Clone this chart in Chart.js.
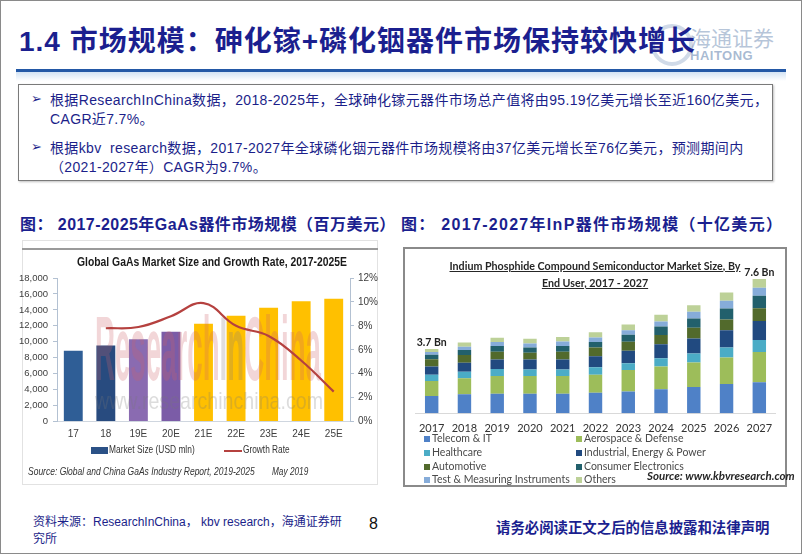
<!DOCTYPE html>
<html lang="zh-CN">
<head>
<meta charset="utf-8">
<title>1.4 市场规模</title>
<script src="https://cdn.jsdelivr.net/npm/chart.js@4.4.1/dist/chart.umd.min.js"></script>
<style>
html,body{margin:0;padding:0;background:#fff;}
#slide{position:relative;width:802px;height:554px;overflow:hidden;font-family:"Liberation Sans","Noto Sans CJK SC",sans-serif;background:#fff;}
.a{position:absolute;white-space:nowrap;}
#frame{position:absolute;left:0;top:0;width:802px;height:554px;box-sizing:border-box;border:1px solid #8a8a8a;pointer-events:none;}
#title{left:19px;top:24px;font-size:28px;font-weight:bold;color:#1b1f8f;line-height:36px;letter-spacing:1px;}
#logoCircle{left:651px;top:24px;width:34px;height:34px;border-radius:50%;border:4px solid rgba(120,150,190,0.35);}
#logoCn{left:690px;top:22px;font-size:21px;color:rgba(110,140,180,0.5);font-family:"Noto Sans CJK SC";}
#logoEn{left:690px;top:48px;font-size:13px;font-weight:bold;color:rgba(110,140,180,0.6);letter-spacing:0.5px;}
#rule{left:16px;top:69px;width:770px;height:3px;background:#2358a6;}
#ruleShade{left:16px;top:72px;width:770px;height:9px;background:linear-gradient(#d3e3f4,#ffffff);}
#box{left:18px;top:84px;width:755px;height:97px;box-sizing:border-box;border:1px solid #7a7a7a;box-shadow:1px 1px 2px rgba(0,0,0,0.25);}
.bul{font-size:14px;color:#1c1f8a;line-height:19px;letter-spacing:0.35px;}
.arrow{font-size:13px;color:#1c1f8a;}
.cap{font-size:16px;font-weight:bold;color:#1b1f8f;top:211px;}
#leftFrame{left:22px;top:240px;width:356px;height:245px;box-sizing:border-box;border:1px solid #e2e2e2;}
#leftRule{left:22px;top:248px;width:356px;height:2px;background:#9a9a9a;}
#rightFrame{left:403px;top:247px;width:384px;height:240px;box-sizing:border-box;border:2px solid #8a8a8a;}
canvas{position:absolute;}
.lg{font-size:11.5px;color:#333;transform-origin:0 0;}
.rlg{font-size:10.5px;color:#4a4a4a;font-family:Lato,"Liberation Sans",sans-serif;}
.sw{position:absolute;width:6px;height:6px;}
#rTitle{left:403px;top:257px;width:384px;text-align:center;font-family:Lato,"Liberation Sans",sans-serif;font-weight:bold;font-size:10.7px;line-height:17px;color:#262626;text-decoration:underline;}
#rSource{left:647px;top:469px;font-family:Lato,"Liberation Sans",sans-serif;font-weight:bold;font-style:italic;font-size:11.5px;color:#262626;}
.lsrc{top:465px;font-size:11px;font-style:italic;color:#333;transform-origin:0 0;}
#foot1{left:33px;top:514px;font-size:12px;line-height:17px;color:#1c1f8a;}
#pageNo{left:369px;top:515px;font-size:16px;color:#111;}
#foot2{left:496px;top:516px;font-size:14.4px;font-weight:bold;color:#1b1f8f;}
</style>
</head>
<body>
<div id="slide">
  <div class="a" id="logoCircle"></div>
  <div class="a" id="logoCn">海通证券</div>
  <div class="a" id="logoEn">HAITONG</div>
  <div class="a" id="title">1.4 市场规模：砷化镓+磷化铟器件市场保持较快增长</div>
  <div class="a" id="rule"></div>
  <div class="a" id="ruleShade"></div>
  <div class="a" id="box"></div>
  <div class="a arrow" style="left:31px;top:91px;">➢</div>
  <div class="a bul" style="left:50px;top:91px;">根据ResearchInChina数据，2018-2025年，全球砷化镓元器件市场总产值将由95.19亿美元增长至近160亿美元，<br>CAGR近7.7%。</div>
  <div class="a arrow" style="left:31px;top:139px;">➢</div>
  <div class="a bul" style="left:50px;top:139px;">根据kbv&nbsp; research数据，2017-2027年全球磷化铟元器件市场规模将由37亿美元增长至76亿美元，预测期间内<br>（2021-2027年）CAGR为9.7%。</div>
  <div class="a cap" style="left:20px;letter-spacing:0.45px;">图：&nbsp;2017-2025年GaAs器件市场规模（百万美元）</div>
  <div class="a cap" style="left:401px;letter-spacing:1.3px;">图：&nbsp;2017-2027年InP器件市场规模（十亿美元）</div>

  <div class="a" id="leftFrame"></div>
  <div class="a" id="leftRule"></div>
  <canvas id="gaasChart" width="362" height="245" style="left:16px;top:240px;"></canvas>
  <div class="a" style="left:91px;top:447px;width:17px;height:7px;background:#2b5186;"></div>
  <div class="a lg" data-fit="86" style="left:109px;top:443px;">Market Size (USD mln)</div>
  <div class="a" style="left:224px;top:450px;width:18px;height:2px;background:#b5413f;"></div>
  <div class="a lg" data-fit="47" style="left:243px;top:443px;">Growth Rate</div>
  <div class="a lsrc" data-fit="227" style="left:28px;">Source: Global and China GaAs Industry Report, 2019-2025</div>
  <div class="a lsrc" data-fit="36" style="left:272px;">May 2019</div>

  <div class="a" id="rightFrame"></div>
  <canvas id="inpChart" width="384" height="240" style="left:403px;top:247px;"></canvas>
  <div class="a" id="rTitle">Indium Phosphide Compound Semiconductor Market Size, By<br>End User, 2017 - 2027</div>
  <div id="rLegend"></div>
  <div class="a" id="rSource">Source: www.kbvresearch.com</div>

  <div class="a" id="foot1">资料来源：ResearchInChina， kbv research，海通证券研<br>究所</div>
  <div class="a" id="pageNo">8</div>
  <div class="a" id="foot2">请务必阅读正文之后的信息披露和法律声明</div>
  <div id="frame"></div>
</div>
<script>
// ---------- Left chart data (GaAs) ----------
const gaasTitleText = 'Global GaAs Market Size and Growth Rate, 2017-2025E';
const gaasCategories = ['17','18','19E','20E','21E','22E','23E','24E','25E'];
const gaasMarketSize = [8870, 9520, 10310, 11270, 12270, 13280, 14280, 15080, 15410];
const gaasGrowthRate = [null, 7.8, 7.9, 8.8, 9.9, 8.0, 7.15, 5.1, 2.5];
const gaasSizeTicks = [0, 2000, 4000, 6000, 8000, 10000, 12000, 14000, 16000, 18000];
const gaasRateTicks = [0, 2, 4, 6, 8, 10, 12];

// ---------- Right chart data (InP, billion USD) ----------
const inpYears = ['2017','2018','2019','2020','2021','2022','2023','2024','2025','2026','2027'];
const inpSegments = ['Telecom & IT','Aerospace & Defense','Healthcare','Industrial, Energy & Power','Automotive','Consumer Electronics','Test & Measuring Instruments','Others'];
const telecomIT           = [0.99, 1.09, 1.12, 1.12, 1.12, 1.18, 1.24, 1.37, 1.50, 1.67, 1.77];
const aerospaceDefense    = [0.86, 0.91, 1.01, 1.01, 1.01, 1.03, 1.24, 1.30, 1.41, 1.52, 1.73];
const healthcare          = [0.36, 0.38, 0.40, 0.38, 0.38, 0.42, 0.38, 0.48, 0.51, 0.57, 0.69];
const industrialEnergy    = [0.46, 0.51, 0.55, 0.57, 0.57, 0.63, 0.72, 0.80, 0.86, 0.99, 1.09];
const automotive          = [0.42, 0.44, 0.44, 0.38, 0.44, 0.50, 0.51, 0.53, 0.61, 0.61, 0.72];
const consumerElectronics = [0.25, 0.29, 0.32, 0.30, 0.32, 0.32, 0.40, 0.48, 0.53, 0.63, 0.72];
const testMeasuring       = [0.17, 0.19, 0.23, 0.23, 0.27, 0.25, 0.25, 0.29, 0.38, 0.44, 0.46];
const others              = [0.17, 0.23, 0.25, 0.27, 0.25, 0.30, 0.34, 0.38, 0.38, 0.48, 0.50];
const inpTotalLabels = ['3.7 Bn','','','','','','','','','','7.6 Bn'];

// ---------- Styles ----------
const gaasBarColors = ['#2f5e96','#284b7f','#8a6bb1','#7b5ca7','#ffc000','#ffc000','#ffc000','#ffc000','#ffc000'];
const gaasLineColor = '#b5413f';
const inpColors = ['#4f81c7','#9dbd5a','#4bacc6','#214a80','#526a2c','#22606c','#86acd9','#bdd198'];
const axisColor = '#b3c1d2';
const tickFont = '"Liberation Sans", sans-serif';

// fit narrow HTML labels to their reference widths
document.querySelectorAll('[data-fit]').forEach(el => {
  const s = parseFloat(el.dataset.fit) / el.offsetWidth;
  el.style.transform = 'scaleX(' + s + ')';
});

// ---------- Left chart ----------
const gaasTitle = {
  id: 'gaasTitle',
  afterDraw(chart) {
    const ctx = chart.ctx;
    ctx.save();
    ctx.font = 'bold 12px "Liberation Sans"';
    const w = ctx.measureText(gaasTitleText).width;
    ctx.translate(196, 23);
    ctx.scale(Math.min(1, 270 / w), 1);
    ctx.textAlign = 'center';
    ctx.textBaseline = 'middle';
    ctx.fillStyle = '#1a1a1a';
    ctx.fillText(gaasTitleText, 0, 0);
    ctx.restore();
  }
};
const watermark = {
  id: 'watermark',
  afterDatasetDraw(chart, args) {
    if (args.index !== 0) return;
    const ctx = chart.ctx;
    ctx.save();
    ctx.font = 'bold 90px "Liberation Sans"';
    const parts = [['Research','rgba(205,95,105,0.26)'],['In','rgba(130,120,125,0.25)'],['China','rgba(205,95,105,0.26)']];
    let total = 0; parts.forEach(p => total += ctx.measureText(p[0]).width);
    const sx = 226 / total;
    ctx.translate(79, 140);
    ctx.scale(sx, 1);
    ctx.textBaseline = 'alphabetic';
    let x = 0;
    parts.forEach(p => { ctx.fillStyle = p[1]; ctx.fillText(p[0], x, 0); x += ctx.measureText(p[0]).width; });
    ctx.restore();
    ctx.save();
    ctx.font = '24px "Liberation Sans"';
    const w2 = ctx.measureText('www.researchinchina.com').width;
    ctx.translate(79, 162);
    ctx.scale(228 / w2, 1);
    ctx.fillStyle = 'rgba(120,120,120,0.26)';
    ctx.textBaseline = 'middle';
    ctx.fillText('www.researchinchina.com', 0, 0);
    ctx.restore();
  }
};

new Chart(document.getElementById('gaasChart'), {
  data: {
    labels: gaasCategories,
    datasets: [
      { type: 'bar', label: 'Market Size (USD mln)', data: gaasMarketSize, backgroundColor: gaasBarColors,
        yAxisID: 'y', order: 1, categoryPercentage: 1, barPercentage: 0.58 },
      { type: 'line', label: 'Growth Rate', data: gaasGrowthRate, borderColor: gaasLineColor, borderWidth: 2.2,
        pointRadius: 0, tension: 0.4, yAxisID: 'y1', order: 0, spanGaps: false }
    ]
  },
  options: {
    responsive: false, animation: false,
    layout: { padding: { left: 0, right: 0, top: 38, bottom: 0 } },
    plugins: { legend: { display: false }, tooltip: { enabled: false }, title: { display: false } },
    scales: {
      x: { grid: { display: false, drawTicks: false }, border: { display: true, color: '#cfd6df' },
        ticks: { color: '#404040', font: { family: tickFont, size: 10 }, padding: 7 },
        afterFit(s) { s.height = 63.5; } },
      y: { position: 'left', min: 0, max: 18000,
        afterBuildTicks(s) { s.ticks = gaasSizeTicks.map(v => ({ value: v })); },
        grid: { drawOnChartArea: false, drawTicks: true, tickLength: 4, color: axisColor },
        border: { display: true, color: axisColor },
        ticks: { color: '#404040', font: { family: tickFont, size: 9.5 }, padding: 5, autoSkip: false,
          callback: v => v.toLocaleString('en-US') },
        afterFit(s) { s.width = 41; } },
      y1: { position: 'right', min: 0, max: 12,
        afterBuildTicks(s) { s.ticks = gaasRateTicks.map(v => ({ value: v })); },
        grid: { drawOnChartArea: false, drawTicks: true, tickLength: 4, color: axisColor },
        border: { display: true, color: axisColor },
        ticks: { color: '#404040', font: { family: tickFont, size: 10 }, padding: 4, autoSkip: false,
          callback: v => v + '%' },
        afterFit(s) { s.width = 28; } }
    }
  },
  plugins: [watermark, gaasTitle]
});

// ---------- Right chart ----------
const inpSeries = [telecomIT, aerospaceDefense, healthcare, industrialEnergy, automotive, consumerElectronics, testMeasuring, others];
const totalLabelPlugin = {
  id: 'totalLabels',
  afterDatasetsDraw(chart) {
    const ctx = chart.ctx;
    ctx.save();
    ctx.font = 'bold 10.5px Lato, "Liberation Sans"';
    ctx.fillStyle = '#222';
    ctx.textAlign = 'center';
    ctx.textBaseline = 'middle';
    inpTotalLabels.forEach((lab, i) => {
      if (!lab) return;
      const tot = inpSeries.reduce((s, arr) => s + arr[i], 0);
      const x = chart.scales.x.getPixelForValue(i);
      const y = chart.scales.y.getPixelForValue(tot) - 6;
      ctx.fillText(lab, x, y);
    });
    ctx.restore();
  }
};

new Chart(document.getElementById('inpChart'), {
  type: 'bar',
  data: {
    labels: inpYears,
    datasets: inpSegments.map((name, k) => ({
      label: name, data: inpSeries[k], backgroundColor: inpColors[k],
      categoryPercentage: 1, barPercentage: 0.41, stack: 's'
    }))
  },
  options: {
    responsive: false, animation: false,
    layout: { padding: { left: 12.3, right: 11.3, top: 8.8, bottom: 0 } },
    plugins: { legend: { display: false }, tooltip: { enabled: false }, title: { display: false } },
    scales: {
      x: { stacked: true, grid: { display: false, drawTicks: false }, border: { display: true, color: '#d9d9d9' },
        ticks: { color: '#333', font: { family: 'Lato, "Liberation Sans"', size: 11 }, padding: 9 },
        afterFit(s) { s.height = 73.7; } },
      y: { stacked: true, display: false, min: 0, max: 9 }
    }
  },
  plugins: [totalLabelPlugin]
});

// Right legend (two columns, from the series names)
(function(){
  const host = document.getElementById('rLegend');
  const rowsY = [432, 445.5, 459.5, 473];
  const colX = [424, 576];
  inpSegments.forEach((name, k) => {
    const col = k % 2, row = Math.floor(k / 2);
    const sw = document.createElement('div');
    sw.className = 'sw';
    sw.style.left = colX[col] + 'px';
    sw.style.top = (rowsY[row] + 4) + 'px';
    sw.style.background = inpColors[k];
    host.appendChild(sw);
    const t = document.createElement('div');
    t.className = 'a rlg';
    t.style.left = (colX[col] + 8) + 'px';
    t.style.top = rowsY[row] + 'px';
    t.textContent = name;
    host.appendChild(t);
  });
})();
</script>
</body>
</html>
